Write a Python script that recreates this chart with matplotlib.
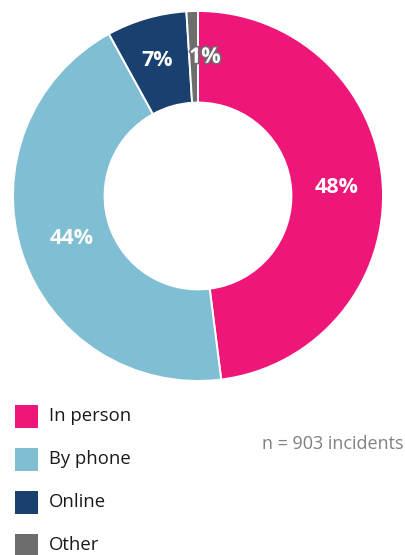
import numpy as np
import matplotlib
matplotlib.use("Agg")
import matplotlib.pyplot as plt
import matplotlib.patheffects as pe
from matplotlib.patches import Rectangle

categories = ["In person", "By phone", "Online", "Other"]
shares = [48, 44, 7, 1]
colors = ["#EE1678", "#80BED3", "#1A4070", "#6D6D6D"]
sample_note = "n = 903 incidents"

plt.rcParams["font.family"] = ["Open Sans", "DejaVu Sans"]

W, H = 405, 555
fig = plt.figure(figsize=(W / 100, H / 100), dpi=100)

# donut occupies a square region near the top
cx, cy, R = 198, 196, 185
ax = fig.add_axes([(cx - R) / W, (H - cy - R) / H, 2 * R / W, 2 * R / H])
wedges, _ = ax.pie(
    shares, colors=colors, startangle=90, counterclock=False,
    radius=1.0, wedgeprops=dict(width=0.495, edgecolor="white", linewidth=1.4),
)
ax.set_xlim(-1, 1)
ax.set_ylim(-1, 1)
ax.set_aspect("equal")
ax.axis("off")

# percentage labels in the middle of the ring
label_r = 0.75
nudges = {0: (0.0, 0.0), 1: (0.03, 0.0), 2: (-0.01, 0.01), 3: (0.06, 0.0)}
cum = 0.0
total = float(sum(shares))
for i, v in enumerate(shares):
    mid = 90 - 360 * (cum + v / 2) / total
    cum += v
    x = label_r * np.cos(np.radians(mid)) + nudges[i][0]
    y = label_r * np.sin(np.radians(mid)) + nudges[i][1]
    t = ax.text(x, y, f"{v}%", ha="center", va="center", color="white",
                fontsize=15.5, fontweight="bold")
    if i == 3:
        t.set_path_effects([pe.Stroke(linewidth=2.4, foreground="#6D6D6D"),
                            pe.Normal()])

# legend with square swatches
lax = fig.add_axes([0, 0, 1, 1])
lax.set_xlim(0, W)
lax.set_ylim(H, 0)
lax.axis("off")
row_y = [416, 459, 502, 545]
for name, col, yy in zip(categories, colors, row_y):
    lax.add_patch(Rectangle((15, yy - 11.5), 23, 23, color=col, lw=0))
    lax.text(49, yy, name, ha="left", va="center", fontsize=13.3, color="#1A1A1A")

lax.text(403, 444, sample_note, ha="right", va="center", fontsize=13,
         color="#808080")

fig.savefig("out.png", dpi=100, facecolor="white")
